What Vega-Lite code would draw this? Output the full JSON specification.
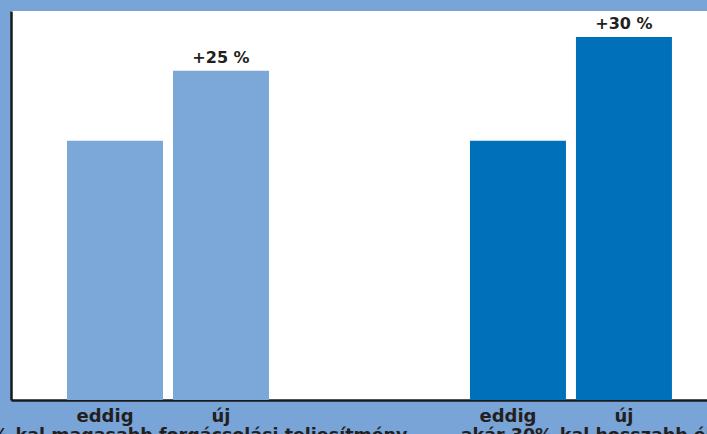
{
  "$schema": "https://vega.github.io/schema/vega-lite/v6.json",
  "width": 696,
  "height": 389,
  "autosize": {"type": "none"},
  "padding": {"left": 11, "top": 11, "right": 0, "bottom": 34},
  "background": "#78A4D8",
  "config": {"view": {"stroke": null, "fill": "white"}, "font": "DejaVu Sans"},
  "data": {
    "values": [
      {"group": "akár 25%-kal magasabb forgácsolási teljesítmény", "kind": "eddig", "value": 100, "label": ""},
      {"group": "akár 25%-kal magasabb forgácsolási teljesítmény", "kind": "új", "value": 127, "label": "+25 %"},
      {"group": "akár 30%-kal hosszabb élettartam", "kind": "eddig", "value": 100, "label": ""},
      {"group": "akár 30%-kal hosszabb élettartam", "kind": "új", "value": 140, "label": "+30 %"}
    ]
  },
  "encoding": {
    "x": {
      "field": "group",
      "type": "nominal",
      "sort": null,
      "scale": {"paddingInner": 0.4988, "paddingOuter": 0.113, "align": 0.615},
      "axis": {
        "title": null,
        "ticks": false,
        "domainColor": "#1a1a1a",
        "domainWidth": 2.5,
        "labelPadding": 40,
        "labelBaseline": "alphabetic",
        "labelFont": "DejaVu Sans",
        "labelFontSize": 17.5,
        "labelFontWeight": "bold",
        "labelColor": "#231F20",
        "labelAngle": 0,
        "labelLimit": 0,
        "labelOverlap": false,
        "labelFlush": false,
        "labelOffset": {"condition": {"test": "datum.value == 'akár 30%-kal hosszabb élettartam'", "value": 59}, "value": -6}
      }
    },
    "xOffset": {
      "field": "kind",
      "type": "nominal",
      "sort": ["eddig", "új"],
      "scale": {"paddingInner": 0.0943, "paddingOuter": 0}
    }
  },
  "layer": [
    {
      "mark": {"type": "bar"},
      "encoding": {
        "y": {
          "field": "value",
          "type": "quantitative",
          "scale": {"domain": [0, 150], "nice": false, "zero": true},
          "axis": {"labels": false, "ticks": false, "grid": false, "title": null, "domainColor": "#1a1a1a", "domainWidth": 2.5}
        },
        "color": {
          "field": "group",
          "type": "nominal",
          "scale": {
            "domain": ["akár 25%-kal magasabb forgácsolási teljesítmény", "akár 30%-kal hosszabb élettartam"],
            "range": ["#7CA7D9", "#0070BA"]
          },
          "legend": null
        }
      }
    },
    {
      "mark": {"type": "text", "baseline": "alphabetic", "dy": -8, "fontSize": 16, "fontWeight": "bold", "color": "#231F20"},
      "encoding": {
        "y": {"field": "value", "type": "quantitative", "scale": {"domain": [0, 150], "nice": false, "zero": true}},
        "text": {"field": "label"}
      }
    },
    {
      "transform": [{"filter": "datum.kind == 'eddig'"}],
      "mark": {"type": "text", "baseline": "alphabetic", "dy": 22, "dx": -10, "fontSize": 18, "fontWeight": "bold", "color": "#231F20"},
      "encoding": {
        "y": {"datum": 0, "scale": {"domain": [0, 150], "nice": false, "zero": true}},
        "text": {"field": "kind"}
      }
    },
    {
      "transform": [{"filter": "datum.kind == 'új'"}],
      "mark": {"type": "text", "baseline": "alphabetic", "dy": 22, "fontSize": 18, "fontWeight": "bold", "color": "#231F20"},
      "encoding": {
        "y": {"datum": 0, "scale": {"domain": [0, 150], "nice": false, "zero": true}},
        "text": {"field": "kind"}
      }
    }
  ]
}
